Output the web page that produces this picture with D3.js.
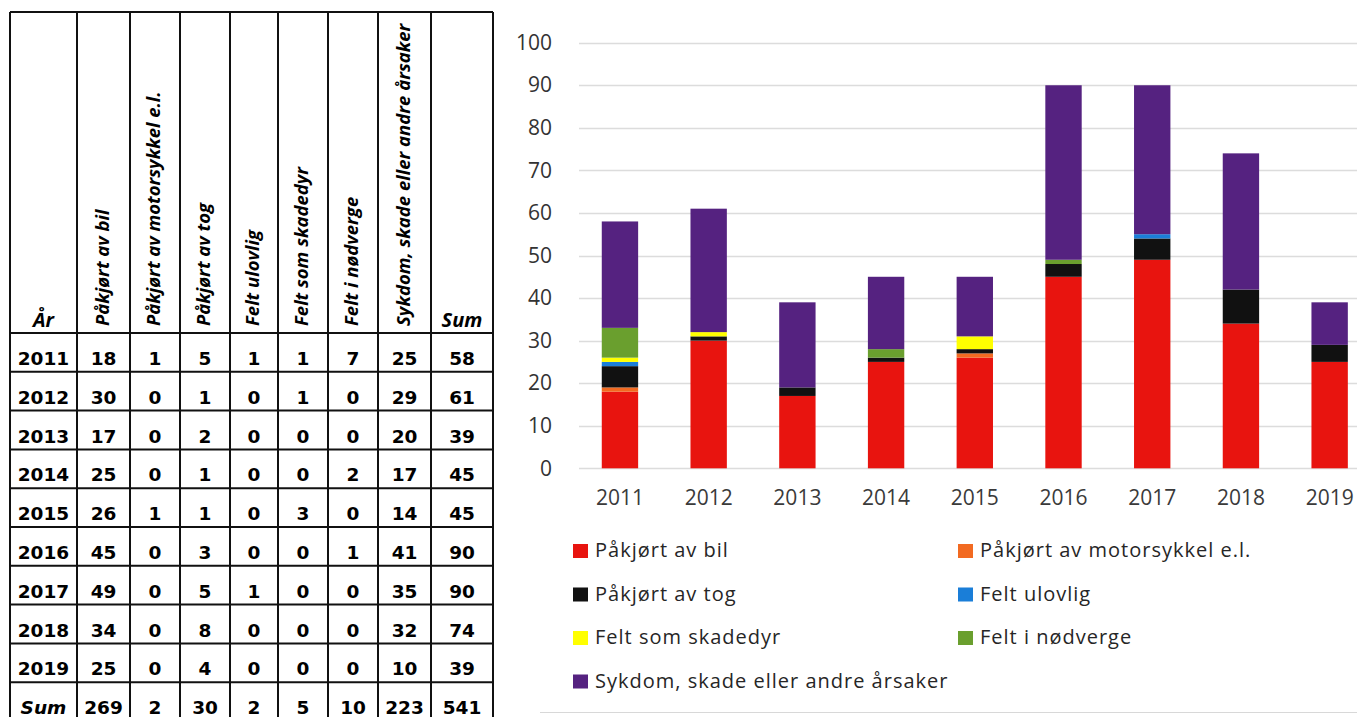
<!DOCTYPE html>
<html>
<head>
<meta charset="utf-8">
<script src="https://cdn.jsdelivr.net/npm/d3@7"></script>
<style>
    html, body { margin: 0; padding: 0; background: #fff; }
    svg { display: block; }
</style>
</head>
<body>
<svg id="chart" width="1357" height="717"></svg>
<script>
const years = ["2011", "2012", "2013", "2014", "2015", "2016", "2017", "2018", "2019"];
const seriesNames = [
    "Påkjørt av bil",
    "Påkjørt av motorsykkel e.l.",
    "Påkjørt av tog",
    "Felt ulovlig",
    "Felt som skadedyr",
    "Felt i nødverge",
    "Sykdom, skade eller andre årsaker"
];
const pakjortBil = [18, 30, 17, 25, 26, 45, 49, 34, 25];
const pakjortMotorsykkel = [1, 0, 0, 0, 1, 0, 0, 0, 0];
const pakjortTog = [5, 1, 2, 1, 1, 3, 5, 8, 4];
const feltUlovlig = [1, 0, 0, 0, 0, 0, 1, 0, 0];
const feltSkadedyr = [1, 1, 0, 0, 3, 0, 0, 0, 0];
const feltNodverge = [7, 0, 0, 2, 0, 1, 0, 0, 0];
const sykdom = [25, 29, 20, 17, 14, 41, 35, 32, 10];
const seriesColors = ["#e8140f", "#f26a21", "#111111", "#1a7ed8", "#ffff00", "#6a9f2e", "#552280"];
const yTicks = [0, 10, 20, 30, 40, 50, 60, 70, 80, 90, 100];

const seriesValues = [pakjortBil, pakjortMotorsykkel, pakjortTog, feltUlovlig, feltSkadedyr, feltNodverge, sykdom];

const svg = d3.select("#chart");

// ---- table on the left ----
const colEdges = [10, 77, 130, 180, 230, 278, 328, 378, 431, 493];
const headerTop = 12;
const headerBottom = 333;
const rowHeight = 38.8;

const table = svg.append("g").attr("class", "table");

const rows = years.map((year, i) => {
    const values = seriesValues.map(s => s[i]);
    return { label: year, values: values, sum: d3.sum(values), italic: false };
});
const colSums = seriesValues.map(s => d3.sum(s));
rows.push({ label: "Sum", values: colSums, sum: d3.sum(colSums), italic: true });

const tableBottom = headerBottom + rowHeight * rows.length;

// grid lines
colEdges.forEach(x => {
    table.append("line")
        .attr("x1", x).attr("x2", x)
        .attr("y1", headerTop).attr("y2", tableBottom)
        .attr("stroke", "#111").attr("stroke-width", 2);
});
table.append("line")
    .attr("x1", colEdges[0]).attr("x2", colEdges[colEdges.length - 1])
    .attr("y1", headerTop).attr("y2", headerTop)
    .attr("stroke", "#111").attr("stroke-width", 2);
d3.range(rows.length + 1).forEach(i => {
    const y = headerBottom + i * rowHeight;
    table.append("line")
        .attr("x1", colEdges[0]).attr("x2", colEdges[colEdges.length - 1])
        .attr("y1", y).attr("y2", y)
        .attr("stroke", "#111").attr("stroke-width", 2);
});

const colCenter = i => (colEdges[i] + colEdges[i + 1]) / 2;
const headerFont = "'Open Sans', sans-serif";

// header labels
table.append("text")
    .attr("x", colCenter(0)).attr("y", headerBottom - 6)
    .attr("text-anchor", "middle")
    .style("font-family", headerFont).style("font-size", "20px")
    .style("font-weight", "bold").style("font-style", "italic")
    .text("År");

seriesNames.forEach((name, i) => {
    table.append("text")
        .attr("transform", "translate(" + (colCenter(i + 1) + 5) + "," + (headerBottom - 7) + ") rotate(-90)")
        .style("font-family", headerFont).style("font-size", "18.5px")
        .style("font-weight", "bold").style("font-style", "italic")
        .text(name);
});

table.append("text")
    .attr("x", colCenter(8)).attr("y", headerBottom - 6)
    .attr("text-anchor", "middle")
    .style("font-family", headerFont).style("font-size", "20px")
    .style("font-weight", "bold").style("font-style", "italic")
    .text("Sum");

// data cells
rows.forEach((row, r) => {
    const baseline = headerBottom + r * rowHeight + 32;
    const cells = [row.label].concat(row.values, [row.sum]);
    cells.forEach((value, c) => {
        table.append("text")
            .attr("x", colCenter(c)).attr("y", baseline)
            .attr("text-anchor", "middle")
            .style("font-family", "'DejaVu Sans', sans-serif")
            .style("font-size", "18.5px").style("font-weight", "bold")
            .style("font-style", row.italic && c === 0 ? "italic" : "normal")
            .text(value);
    });
});

// ---- stacked bar chart on the right ----
const x = d3.scaleBand()
    .domain(years)
    .range([575.6, 1374])
    .paddingInner(0.59)
    .paddingOuter(0.295);

const y = d3.scaleLinear()
    .domain([0, 100])
    .range([468.3, 42.7]);

const chart = svg.append("g").attr("class", "chart");

chart.selectAll("line.grid")
    .data(yTicks)
    .enter().append("line")
    .attr("class", "grid")
    .attr("x1", 579).attr("x2", 1357)
    .attr("y1", d => Math.round(y(d)) + 0.5).attr("y2", d => Math.round(y(d)) + 0.5)
    .attr("stroke", "#dcdcdc").attr("stroke-width", 1.5);

const yAxis = chart.append("g")
    .attr("transform", "translate(552,0)")
    .call(d3.axisLeft(y).tickValues(yTicks).tickSize(0).tickPadding(0));
yAxis.select(".domain").remove();
yAxis.selectAll("text")
    .style("font-family", "'Open Sans', sans-serif")
    .style("font-size", "21px")
    .attr("fill", "#333");

const xAxis = chart.append("g")
    .attr("transform", "translate(0,490)")
    .call(d3.axisBottom(x).tickSize(0).tickPadding(0));
xAxis.select(".domain").remove();
xAxis.selectAll("text")
    .attr("dy", "0.71em")
    .style("font-family", "'Open Sans', sans-serif")
    .style("font-size", "21px")
    .attr("fill", "#3a3a3a");

const tableData = years.map((year, i) => {
    const o = { year: year };
    seriesNames.forEach((name, s) => { o[name] = seriesValues[s][i]; });
    return o;
});
const stacked = d3.stack().keys(seriesNames)(tableData);

chart.selectAll("g.layer")
    .data(stacked)
    .enter().append("g")
    .attr("class", "layer")
    .attr("fill", (d, i) => seriesColors[i])
    .selectAll("rect")
    .data(d => d)
    .enter().append("rect")
    .attr("x", d => x(d.data.year))
    .attr("width", x.bandwidth())
    .attr("y", d => y(d[1]))
    .attr("height", d => y(d[0]) - y(d[1]));

// legend
const legend = chart.append("g").attr("class", "legend");
seriesNames.forEach((name, i) => {
    const col = i % 2;
    const row = Math.floor(i / 2);
    const lx = col === 0 ? 573 : 958;
    const baseline = 557 + row * 43.5;
    legend.append("rect")
        .attr("x", lx).attr("y", baseline - 13)
        .attr("width", 15).attr("height", 14)
        .attr("fill", seriesColors[i]);
    legend.append("text")
        .attr("x", lx + 22).attr("y", baseline)
        .style("font-family", "'Open Sans', sans-serif")
        .style("font-size", "20px")
        .style("letter-spacing", "1px")
        .attr("fill", "#262626")
        .text(name);
});

chart.append("line")
    .attr("x1", 540).attr("x2", 1357)
    .attr("y1", 712.5).attr("y2", 712.5)
    .attr("stroke", "#d8d8d8").attr("stroke-width", 1);
</script>
</body>
</html>
